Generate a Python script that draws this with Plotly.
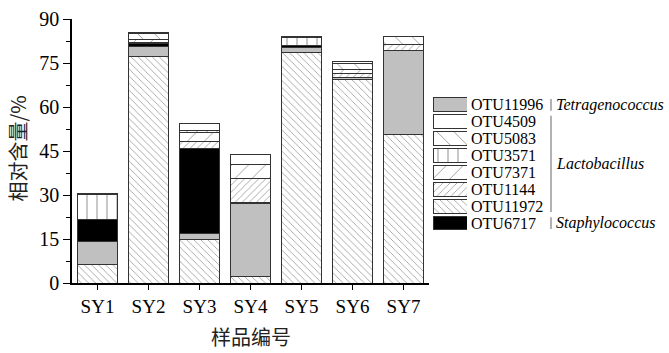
import plotly.graph_objects as go

categories = ["SY1", "SY2", "SY3", "SY4", "SY5", "SY6", "SY7"]

# stacked from bottom to top
otu11972 = [6.4, 77.2, 14.8, 2.3, 78.6, 69.3, 50.6]
otu11996 = [7.9, 3.3, 2.0, 24.7, 1.7, 0.9, 28.7]
otu6717 = [7.4, 1.1, 29.0, 0.4, 0.6, 0.0, 0.0]
otu1144 = [0.0, 0.3, 2.3, 8.2, 0.0, 1.1, 1.9]
otu7371 = [0.0, 1.2, 3.3, 4.7, 0.0, 1.5, 0.0]
otu3571 = [8.5, 0.0, 0.6, 0.0, 2.7, 0.0, 0.0]
otu5083 = [0.0, 1.9, 0.0, 0.0, 0.0, 2.0, 2.9]
otu4509 = [0.3, 0.5, 2.3, 3.4, 0.4, 0.8, 0.0]

legend_order = ["OTU11996", "OTU4509", "OTU5083", "OTU3571",
                "OTU7371", "OTU1144", "OTU11972", "OTU6717"]
genus_labels = ["Tetragenococcus", "Lactobacillus", "Staphylococcus"]
y_ticks = [0, 15, 30, 45, 60, 75, 90]

series = [
    ("OTU11972", otu11972, dict(color="white", pattern=dict(shape="\\", size=5, solidity=0.15, fgcolor="#222", bgcolor="white"))),
    ("OTU11996", otu11996, dict(color="#c0c0c0")),
    ("OTU6717", otu6717, dict(color="black")),
    ("OTU1144", otu1144, dict(color="white", pattern=dict(shape="/", size=5, solidity=0.15, fgcolor="#222", bgcolor="white"))),
    ("OTU7371", otu7371, dict(color="white", pattern=dict(shape="/", size=12, solidity=0.07, fgcolor="#222", bgcolor="white"))),
    ("OTU3571", otu3571, dict(color="white", pattern=dict(shape="|", size=10, solidity=0.1, fgcolor="#222", bgcolor="white"))),
    ("OTU5083", otu5083, dict(color="white", pattern=dict(shape="\\", size=12, solidity=0.07, fgcolor="#222", bgcolor="white"))),
    ("OTU4509", otu4509, dict(color="white")),
]

SERIF = "Liberation Serif"
CJK = "Noto Sans CJK SC"

fig = go.Figure()
for name, vals, mk in series:
    marker = dict(mk)
    marker["line"] = dict(color="#333", width=1)
    fig.add_trace(go.Bar(
        x=categories, y=[v if v > 0 else None for v in vals], name=name,
        marker=marker, width=0.8, showlegend=False, xaxis="x", yaxis="y"))
    # legend swatch on a second axis
    fig.add_trace(go.Bar(
        x=[1], y=[name], orientation="h", marker=marker, width=0.82,
        showlegend=False, hoverinfo="skip", xaxis="x2", yaxis="y2"))

fig.update_layout(
    width=669, height=353,
    margin=dict(l=72, r=10, t=8, b=70),
    paper_bgcolor="white", plot_bgcolor="white",
    barmode="stack",
    font=dict(family=SERIF, color="black"),
    xaxis=dict(domain=[0, 357 / 587], range=[-0.5, 6.5], showline=True,
               linecolor="black", linewidth=1.5, ticks="outside", ticklen=5,
               tickwidth=1.3, tickcolor="black", showgrid=False,
               tickfont=dict(size=19, family=SERIF), zeroline=False),
    yaxis=dict(range=[0, 90.01], tickmode="array", tickvals=y_ticks,
               ticktext=[str(v) for v in y_ticks], showline=True,
               ticklabeloverflow="allow",
               linecolor="black", linewidth=1.5, ticks="outside", ticklen=7,
               tickwidth=1.3, tickcolor="black", showgrid=False, zeroline=False,
               tickfont=dict(size=20, family=SERIF),
               minor=dict(tickmode="array", tickvals=[7.5, 22.5, 37.5, 52.5, 67.5, 82.5],
                          ticks="outside", ticklen=4,
                          tickcolor="black", tickwidth=1.2)),
    xaxis2=dict(domain=[(433 - 72) / 587, (467 - 72) / 587], range=[0, 1],
                anchor="y2", visible=False, fixedrange=True),
    yaxis2=dict(domain=[(283 - 232) / 275, (283 - 86) / 275], anchor="x2",
                type="category", categoryorder="array",
                categoryarray=list(reversed(legend_order)),
                tickmode="array", tickvals=legend_order, ticktext=legend_order,
                side="right", showline=False, ticks="", showgrid=False,
                zeroline=False, tickfont=dict(size=16, family=SERIF),
                ticklabelstandoff=3),
)

# axis titles
fig.add_annotation(text="相对含量/%", xref="paper", yref="paper",
                   x=(18 - 72) / 587, y=(283 - 143) / 275, textangle=-90,
                   xanchor="center", yanchor="middle",
                   showarrow=False, font=dict(size=20, family=CJK, color="#222"))
fig.add_annotation(text="样品编号", xref="paper", yref="paper",
                   x=(251 - 72) / 587, y=(283 - 339) / 275,
                   xanchor="center", yanchor="middle",
                   showarrow=False, font=dict(size=20, family=CJK, color="#222"))

# genus groups
lx = (551 - 72) / 587
tx = (554 - 72) / 587
groups = [(genus_labels[0], 7, 6.65, 7.35),
          (genus_labels[1], 3.5, 0.65, 6.35),
          (genus_labels[2], 0, -0.35, 0.35)]
for label, yc, y0, y1 in groups:
    fig.add_shape(type="line", xref="paper", yref="y2", x0=lx, x1=lx,
                  y0=y0, y1=y1, line=dict(color="#999", width=1.5))
    fig.add_annotation(text="<i>%s</i>" % label, xref="paper", yref="y2",
                       x=tx, y=yc, xanchor="left", yanchor="middle",
                       showarrow=False, font=dict(size=16, family=SERIF))

fig.write_html("out.html")
